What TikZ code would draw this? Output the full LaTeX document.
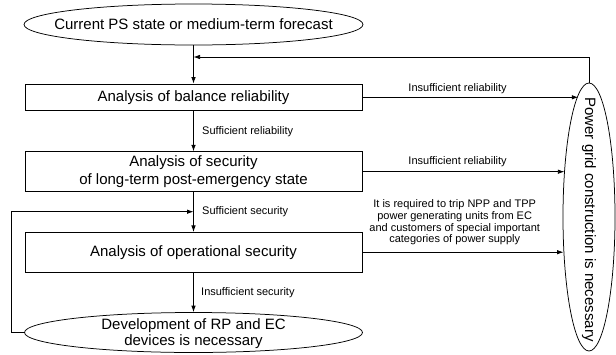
\documentclass[tikz,border=0pt]{standalone}
\usepackage{fontspec}
\setmainfont{Liberation Sans}
\usetikzlibrary{shapes.geometric,arrows.meta}
\tikzset{
  arr/.style={-{Latex[length=6.5pt,width=4.5pt]}, line width=0.75pt},
  ln/.style={line width=0.75pt},
  boxn/.style={draw, line width=0.75pt, minimum width=337pt, inner sep=0pt, align=center, font=\fontsize{15}{18.3}\selectfont},
  ell/.style={draw, ellipse, line width=0.75pt, inner sep=0pt},
  bigtxt/.style={inner sep=0pt, align=center, font=\fontsize{15}{15.6}\selectfont},
  lbl/.style={inner sep=0pt, align=center, font=\fontsize{11}{11.7}\selectfont},
}
\begin{document}
\begin{tikzpicture}[x=1pt,y=-1pt]
\useasboundingbox (0,0) rectangle (616,354);
% top ellipse
\node[ell, minimum width=339pt, minimum height=41pt] (top) at (193.5,24.5) {};
\node[bigtxt] (toptxt) at (top) {Current PS state or medium-term forecast};
% boxes
\node[boxn, minimum height=26.7pt] (b1) at (193.5,97.3) {Analysis of balance reliability};
\node[boxn, minimum height=40pt] (b2) at (193.5,171.7) {Analysis of security\\of long-term post-emergency state};
\node[boxn, minimum height=39.7pt] (b3) at (193.5,252.2) {Analysis of operational security};
% bottom ellipse
\node[ell, minimum width=338pt, minimum height=40pt] (bot) at (193.5,332.5) {};
\node[bigtxt] (bottxt) at (193.5,333.5) {Development of RP and EC\\devices is necessary};
% right ellipse
\node[ell, minimum width=52pt, minimum height=268pt] (rgt) at (589,217) {};
\node[bigtxt, rotate=-90] (rgttxt) at (589,219.5) {Power grid construction is necessary};
% coordinates
\coordinate (fb) at (193.5,57);
\coordinate (lp) at (193.5,211.7);
\coordinate (lc) at (11.7,332.5);
% vertical flow
\draw[arr] (top.south) -- (b1.north);
\draw[arr] (b1.south) -- (b2.north);
\draw[arr] (b2.south) -- (b3.north);
\draw[arr] (b3.south) -- (bot.north);
% feedback top
\draw[arr] (rgt.north) |- (fb);
% loop left
\draw[arr] (bot.west) -- (lc) |- (lp);
% to right ellipse
\draw[arr] (b1.east) -- (b1.east -| rgt.95.5);
\draw[arr] (b2.east) -- (b2.east -| rgt.117.9);
\draw[arr] (b3.east) -- (b3.east -| rgt.234.3);
% labels
\node[lbl, anchor=west] (l1) at (202,131.7) {Sufficient reliability};
\node[lbl, anchor=west] (l2) at (202,211.7) {Sufficient security};
\node[lbl, anchor=west] (l3) at (201,292.7) {Insufficient security};
\node[lbl] (l4) at (457.6,88.7) {Insufficient reliability};
\node[lbl] (l5) at (457.6,161.7) {Insufficient reliability};
\node[lbl] (l6) at (454.7,222.6) {It is required to trip NPP and TPP\\power generating units from EC\\and customers of special important\\categories of power supply};
\end{tikzpicture}
\end{document}
